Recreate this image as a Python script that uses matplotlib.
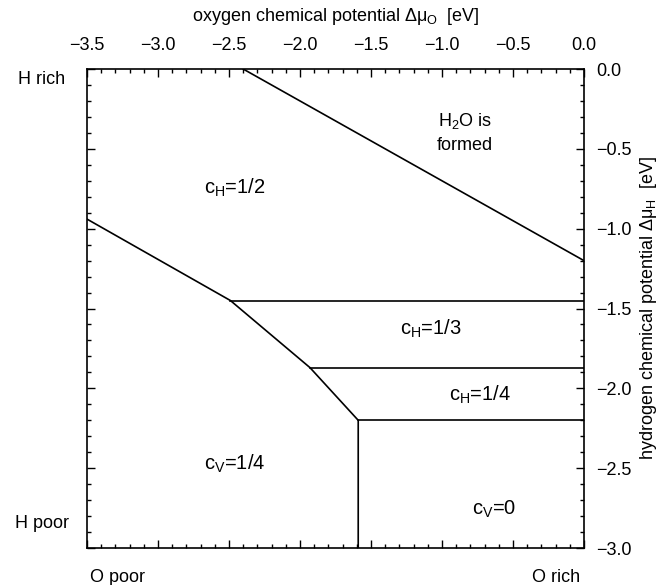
import matplotlib
matplotlib.use("Agg")
import matplotlib.pyplot as plt
from matplotlib.ticker import MultipleLocator, FuncFormatter

plt.rcParams['font.family'] = ['Liberation Sans', 'DejaVu Sans']
plt.rcParams['mathtext.fontset'] = 'custom'
plt.rcParams['mathtext.rm'] = 'Liberation Sans'
plt.rcParams['mathtext.it'] = 'Liberation Sans'
plt.rcParams['mathtext.bf'] = 'Liberation Sans'
plt.rcParams['mathtext.sf'] = 'Liberation Sans'

# Data
boundary_x = [-3.5, -2.49, -1.93, -1.59, -1.59]
boundary_y = [-0.94, -1.45, -1.87, -2.20, -3.0]
water_x = [-2.4, 0.0]
water_y = [0.0, -1.2]
hline_levels = [-1.45, -1.87, -2.20]
hline_start = [-2.49, -1.93, -1.59]
hline_end = 0.0

region_labels = [r'c$_\mathrm{H}$=1/2', 'H$_\\mathrm{2}$O is\nformed', r'c$_\mathrm{H}$=1/3',
                 r'c$_\mathrm{H}$=1/4', r'c$_\mathrm{V}$=1/4', r'c$_\mathrm{V}$=0']
region_x = [-2.46, -0.84, -1.08, -0.73, -2.46, -0.63]
region_y = [-0.745, -0.40, -1.63, -2.04, -2.47, -2.76]

fig = plt.figure(figsize=(6.7, 5.85), dpi=100)
ax = fig.add_axes([0.1299, 0.0632, 0.7417, 0.8188])

lw = 1.2
ax.plot(boundary_x, boundary_y, color='black', lw=lw)
ax.plot(water_x, water_y, color='black', lw=lw)
for lv, xs in zip(hline_levels, hline_start):
    ax.plot([xs, hline_end], [lv, lv], color='black', lw=lw)

for t, x, y in zip(region_labels, region_x, region_y):
    if 'formed' in t:
        ax.text(x, y, t, ha='center', va='center', fontsize=13, linespacing=1.45)
    else:
        ax.text(x, y, t, ha='center', va='center', fontsize=14.5)

ax.set_xlim(-3.5, 0.0)
ax.set_ylim(-3.0, 0.0)

def fmt(v, pos):
    s = f"{v:.1f}"
    if s == "-0.0":
        s = "0.0"
    return s.replace('-', '\u2212')

ax.xaxis.set_major_locator(MultipleLocator(0.5))
ax.xaxis.set_minor_locator(MultipleLocator(0.1))
ax.yaxis.set_major_locator(MultipleLocator(0.5))
ax.yaxis.set_minor_locator(MultipleLocator(0.1))
ax.xaxis.set_major_formatter(FuncFormatter(fmt))
ax.yaxis.set_major_formatter(FuncFormatter(fmt))

ax.tick_params(which='both', direction='in', top=True, bottom=True, left=True, right=True,
               labeltop=True, labelbottom=False, labelleft=False, labelright=True,
               labelsize=13, width=1.0)
ax.tick_params(which='major', length=6)
ax.tick_params(which='minor', length=3)
ax.tick_params(axis='x', which='major', pad=11)
ax.tick_params(axis='y', which='major', pad=9)
for s in ax.spines.values():
    s.set_linewidth(1.2)

ax.xaxis.set_label_position('top')
ax.set_xlabel(r'oxygen chemical potential $\Delta\mu_\mathrm{O}$  [eV]', fontsize=13, labelpad=11)
ax.yaxis.set_label_position('right')
ax.set_ylabel(r'hydrogen chemical potential $\Delta\mu_\mathrm{H}$  [eV]', fontsize=13,
              rotation=90, labelpad=4)

fig.text(42/670, 1 - 80/585, 'H rich', ha='center', va='center', fontsize=13)
fig.text(42/670, 1 - 524/585, 'H poor', ha='center', va='center', fontsize=13)
fig.text(118/670, 1 - 577/585, 'O poor', ha='center', va='center', fontsize=13)
fig.text(556/670, 1 - 577/585, 'O rich', ha='center', va='center', fontsize=13)

fig.savefig('out.png', dpi=100)
